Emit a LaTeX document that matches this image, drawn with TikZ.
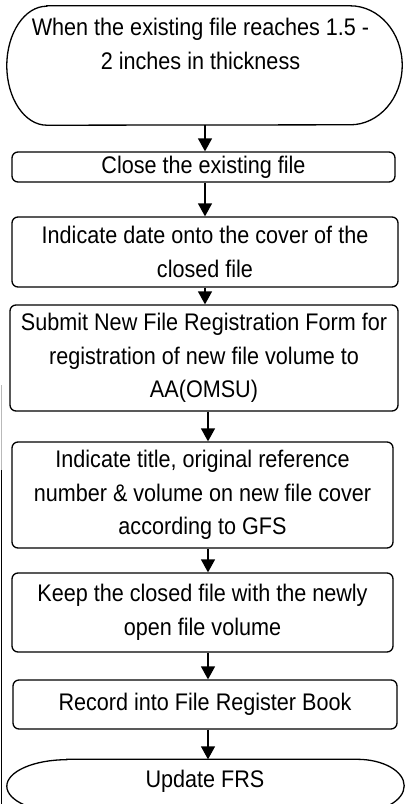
\documentclass[tikz,border=0pt]{standalone}
\usepackage{fontspec}
\setmainfont{Liberation Sans}[FakeStretch=0.9]
\usetikzlibrary{arrows.meta}
\newcommand\flowfont{\fontsize{24}{33.5}\selectfont}
\tikzset{
  stepbox/.style={draw, line width=1.3pt, rounded corners=6pt, inner sep=0pt,
    align=center, font=\flowfont},
  plain/.style={inner sep=0pt, align=center, font=\flowfont},
  shell/.style={draw=none, inner sep=0pt},
  outline/.style={line width=1.3pt},
  arr/.style={line width=1.4pt, -{Triangle[width=14pt,length=13pt]}},
}
\begin{document}
\begin{tikzpicture}[x=1pt,y=1pt]
\useasboundingbox (0,0) rectangle (405,-804);
\clip (0,0) rectangle (405,-804);
\fill[white] (0,0) rectangle (405,-804);

% column positions of the connectors
\coordinate (ax1) at (205,0);
\coordinate (ax2) at (208,0);

% start terminator
\node[shell, minimum width=395pt, minimum height=119pt] (t1) at (204.5,-65.5) {};
\draw[outline] ([xshift=40pt]t1.north west) -- ([xshift=-52pt]t1.north east)
  arc[start angle=90, end angle=-90, x radius=52pt, y radius=59.5pt]
  -- ([xshift=40pt]t1.south west)
  arc[start angle=270, end angle=90, x radius=40pt, y radius=59.5pt] -- cycle;
\node[plain] (t1text) at (200.5,-44) {When the existing file reaches 1.5 -\\2 inches in thickness};

% process steps
\node[stepbox, minimum width=383pt, minimum height=30pt] (b1) at (203.5,-167)
  {Close the existing file};
\node[stepbox, minimum width=386pt, minimum height=70pt] (b2) at (205,-252)
  {Indicate date onto the cover of the\\closed file};
\node[stepbox, minimum width=388pt, minimum height=106pt] (b3) at (204,-358)
  {Submit New File Registration Form for\\registration of new file volume to\\AA(OMSU)};
\node[stepbox, minimum width=381pt, minimum height=106pt] (b4) at (202.5,-495)
  {Indicate title, original reference\\number \& volume on new file cover\\according to GFS};
\node[stepbox, minimum width=381pt, minimum height=79pt] (b5) at (202.5,-612.5)
  {Keep the closed file with the newly\\open file volume};
\node[stepbox, minimum width=384pt, minimum height=49pt] (b6) at (205,-704.5)
  {Record into File Register Book};

% end terminator
\node[shell, minimum width=397pt, minimum height=53pt] (t2) at (205.5,-786) {};
\draw[outline] ([xshift=60pt]t2.north west) -- ([xshift=-47pt]t2.north east)
  arc[start angle=90, end angle=-90, x radius=47pt, y radius=26.5pt]
  -- ([xshift=60pt]t2.south west)
  arc[start angle=270, end angle=90, x radius=60pt, y radius=26.5pt] -- cycle;
\node[plain] (t2text) at (205,-781) {Update FRS};

% connectors
\draw[arr] (t1.south -| ax1) -- (b1.north -| ax1);
\draw[arr] (b1.south -| ax1) -- (b2.north -| ax1);
\draw[arr] (b2.south -| ax1) -- (b3.north -| ax1);
\draw[arr] (b3.south -| ax2) -- (b4.north -| ax2);
\draw[arr] (b4.south -| ax2) -- (b5.north -| ax2);
\draw[arr] (b5.south -| ax2) -- (b6.north -| ax2);
\draw[arr] (b6.south -| ax2) -- (t2.north -| ax2);

% page edge rule along the left margin
\draw[gray!55, line width=1.2pt] (1.5,-385) -- (1.5,-470);
\draw[line width=1.4pt] (1.5,-470) -- (1.5,-804);
\end{tikzpicture}
\end{document}
